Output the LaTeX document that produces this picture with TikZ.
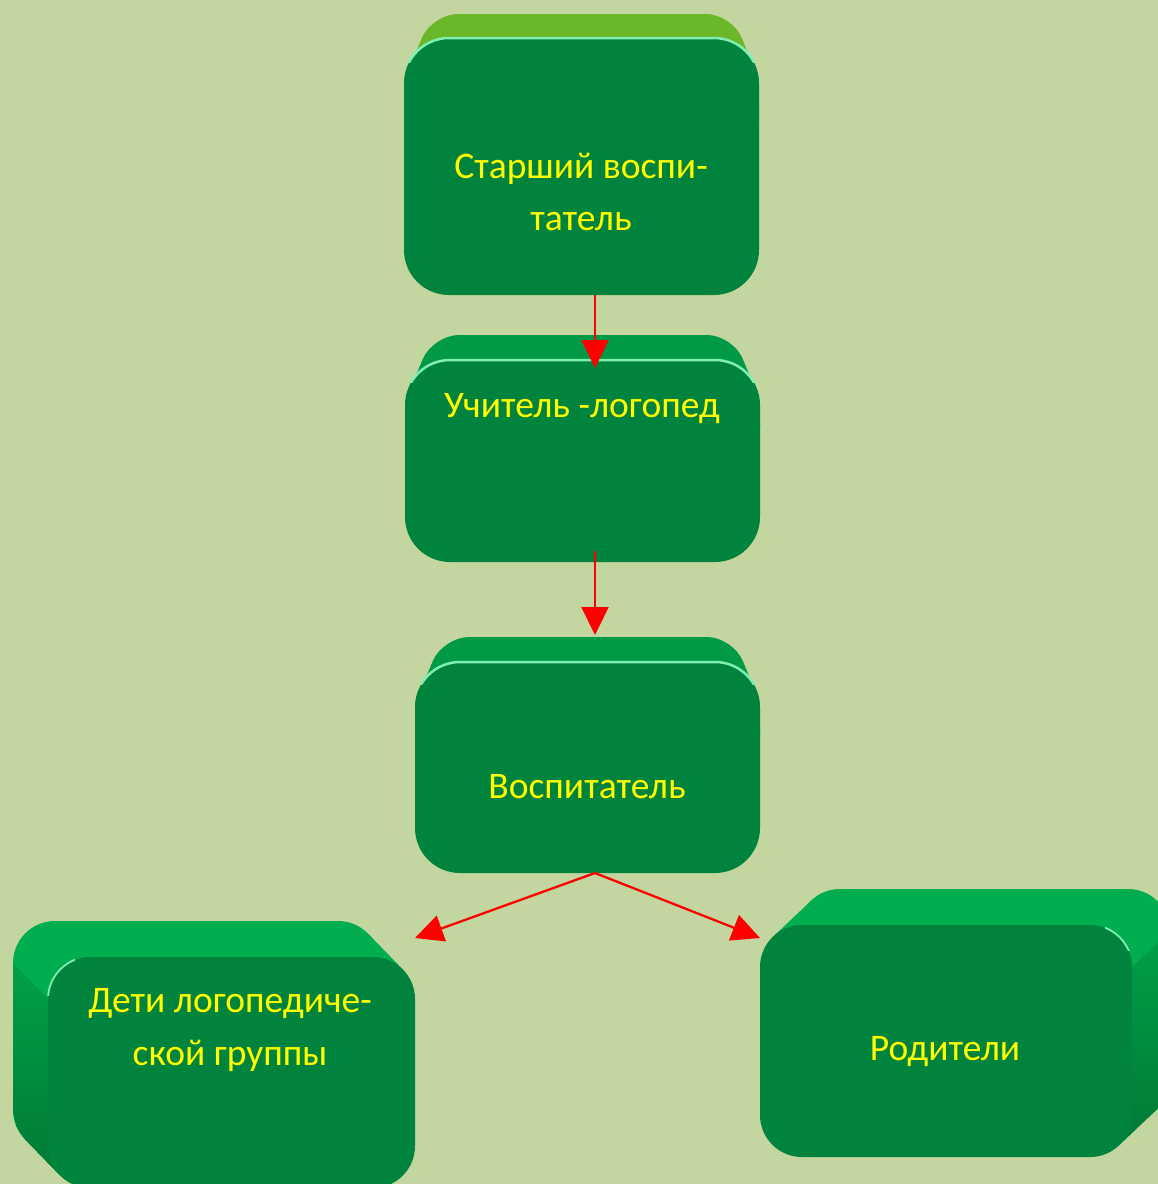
\documentclass[tikz,border=0pt]{standalone}
\usepackage{fontspec}
\setmainfont{Carlito}
\usetikzlibrary{arrows.meta}
\definecolor{bg}{HTML}{C4D69F}
\definecolor{face}{HTML}{00843D}
\definecolor{topA}{HTML}{6AB82A}
\definecolor{topB}{HTML}{009A46}
\definecolor{topC}{HTML}{00AD4F}
\definecolor{sideHi}{HTML}{00A048}
\definecolor{sideLo}{HTML}{007A36}
\definecolor{hl}{HTML}{80EEB0}
\definecolor{txt}{HTML}{FFFF00}
\definecolor{arr}{HTML}{FF0000}
\begin{document}
\begin{tikzpicture}[x=1pt,y=-1pt,
  frontface/.style={fill=face, draw=none, inner sep=0pt, rounded corners=#1},
  lbl/.style={text=txt, anchor=base, inner sep=0pt, font=\fontsize{37.5pt}{52pt}\selectfont},
  arrline/.style={draw=arr, line width=2.3pt, -{Triangle[length=28pt,width=27pt]}},
  hline/.style={draw=hl, line width=2.5pt}
]
\fill[bg] (0,0) rectangle (1158,1184);
\useasboundingbox (0,0) rectangle (1158,1184);

% ---------- box 1 : top bevel ----------
\fill[topA, rounded corners=26pt] (404,150) -- (404,80) -- (432,14) -- (732,14) -- (759,80) -- (759,150) -- cycle;
% ---------- box 2 : top bevel ----------
\fill[topB, rounded corners=26pt] (405,450) -- (405,401) -- (433,335) -- (733,335) -- (760,401) -- (760,450) -- cycle;
% ---------- box 3 : top bevel ----------
\fill[topB, rounded corners=26pt] (415,760) -- (415,703) -- (443,637) -- (733,637) -- (760,703) -- (760,760) -- cycle;

% ---------- box 4 : extrusion up-left ----------
\fill[topC, rounded corners=42pt] (13,921) rectangle (380,1152);
\fill[topC] (402.7,969.3) -- (367.7,933.3) -- (25.3,1139.7) -- (60.3,1175.7) -- cycle;
\shade[top color=sideHi, bottom color=sideLo] (13,963) -- (48,999) -- (48,1146) -- (51.2,1162.1) -- (60.3,1175.7) -- (25.3,1139.7) -- (16.2,1126.1) -- (13,1110) -- cycle;

% ---------- box 5 : extrusion up-right ----------
\fill[topC, rounded corners=42pt] (798,889) rectangle (1170,1121);
\fill[topC] (773,936.8) -- (811,900.8) -- (1157,1109.2) -- (1119,1145.2) -- cycle;
\shade[top color=sideHi, bottom color=sideLo] (1170,931) -- (1132,967) -- (1132,1115) -- (1129,1131) -- (1119,1145.2) -- (1157,1109.2) -- (1167,1095) -- (1170,1079) -- cycle;

% ---------- front faces ----------
\node[frontface=45pt, minimum width=355pt, minimum height=257pt] (b1) at (581.5,166.5) {};
\node[frontface=45pt, minimum width=355pt, minimum height=202pt] (b2) at (582.5,461) {};
\node[frontface=45pt, minimum width=345pt, minimum height=211pt] (b3) at (587.5,767.5) {};
\node[frontface=42pt, minimum width=367pt, minimum height=231pt] (b4) at (231.5,1072.5) {};
\node[frontface=42pt, minimum width=372pt, minimum height=232pt] (b5) at (946,1041) {};

% ---------- highlights ----------
\begin{scope}
  \clip (380,20) rectangle (780,62);
  \draw[hline, rounded corners=45pt] (404,38) rectangle (759,295);
\end{scope}
\begin{scope}
  \clip (380,345) rectangle (780,382);
  \draw[hline, rounded corners=45pt] (405,360) rectangle (760,562);
\end{scope}
\begin{scope}
  \clip (390,648) rectangle (780,684);
  \draw[hline, rounded corners=45pt] (415,662) rectangle (760,873);
\end{scope}
\begin{scope}
  \clip (40,955) rectangle (75,995);
  \draw[hline, line width=1.8pt, rounded corners=42pt] (48,957) rectangle (415,1188);
\end{scope}
\begin{scope}
  \clip (1105,923) rectangle (1134,950);
  \draw[hline, line width=1.8pt, rounded corners=42pt] (760,925) rectangle (1132,1157);
\end{scope}

% ---------- labels ----------
\node[lbl] (t1a) at (581,178) {Старший воспи-};
\node[lbl] (t1b) at (581,230) {татель};
\node[lbl] (t2) at (582,417) {Учитель -логопед};
\node[lbl] (t3) at (587,798) {Воспитатель};
\node[lbl] (t4a) at (230,1012) {Дети логопедиче-};
\node[lbl] (t4b) at (230,1065) {ской группы};
\node[lbl] (t5) at (945,1060) {Родители};

% ---------- connectors ----------
\coordinate (p1) at (595,295);
\coordinate (p2) at (595,368);
\coordinate (p3) at (595,551);
\coordinate (p4) at (595,635);
\coordinate (p5) at (595,873);
\coordinate (p6) at (415,938);
\coordinate (p7) at (760,938);
\draw[arrline] (p1) -- (p2);
\draw[arrline] (p3) -- (p4);
\draw[arrline] (p5) -- (p6);
\draw[arrline] (p5) -- (p7);
\end{tikzpicture}
\end{document}
